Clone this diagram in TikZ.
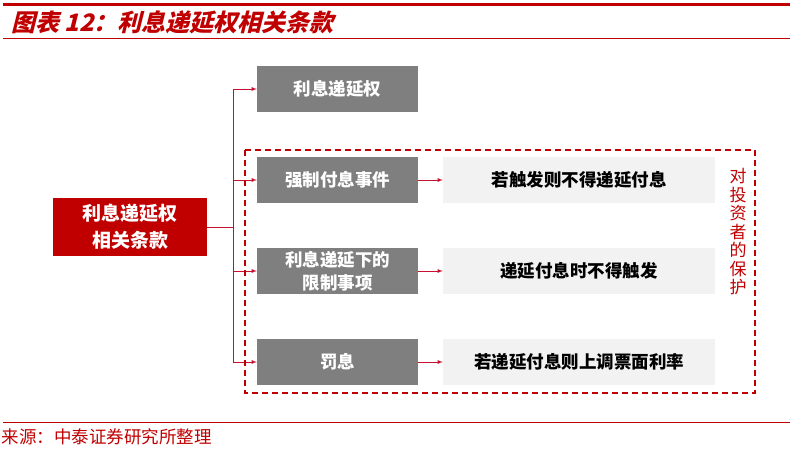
\documentclass[tikz,border=0pt]{standalone}
\usepackage{fontspec}
\newfontfamily\cjk{Noto Sans CJK SC}
\usetikzlibrary{positioning}
\definecolor{zred}{HTML}{C00000}
\definecolor{lred}{HTML}{C8102E}
\definecolor{zgray}{HTML}{7F7F7F}
\definecolor{lgray}{HTML}{F2F2F2}
\begin{document}
\begin{tikzpicture}[x=1pt,y=-1pt,
	font=\cjk\bfseries\fontsize{17.5}{23}\selectfont,
	main/.style={fill=zred,text=white,minimum width=154pt,minimum height=58pt,align=center,font=\cjk\bfseries\fontsize{19}{27}\selectfont},
	item/.style={fill=zgray,text=white,minimum width=161pt,minimum height=46pt,inner sep=1pt,align=center},
	effect/.style={fill=lgray,text=black,minimum width=272pt,minimum height=46pt},
	link/.style={draw=lred,thick,-latex}]
  \useasboundingbox (0,0) rectangle (790,448);

  % header and footer
  \fill[zred] (3,3) rectangle (790,6);
  \draw[zred] (3,38) -- (790,38);
  \node[anchor=west,text=zred,font=\cjk\bfseries\fontsize{24}{28}\selectfont,xslant=0.25] (title) at (10,22) {图表 12：利息递延权相关条款};
  \draw[zred] (3,422) -- (790,422);
  \node[anchor=west,text=zred,font=\cjk\fontsize{17.5}{20}\selectfont] (src) at (-2,437) {来源：中泰证券研究所整理};

  % nodes
  \node[main] (m) at (130,227) {利息递延权\\相关条款};
  \node[item] (i1) at (337.5,89) {利息递延权};
  \node[item] (i2) at (337.5,180) {强制付息事件};
  \node[item] (i3) at (337.5,271) {利息递延下的\\限制事项};
  \node[item] (i4) at (337.5,362) {罚息};
  \node[effect] (e2) at (579,180) {若触发则不得递延付息};
  \node[effect] (e3) at (579,271) {递延付息时不得触发};
  \node[effect] (e4) at (579,362) {若递延付息则上调票面利率};

  % connectors
  \coordinate (t) at (233,227);
  \draw[lred,thick] (m.east) -- (t);
  \draw[lred,thick] (233,89) -- (233,362);
  \foreach \i in {1,...,4}{
	  \draw[link] (t |- i\i) -- (i\i.west);
  }
  \foreach \i in {2,...,4}{
	  \draw[link] (i\i.east) -- (e\i.west);
  }

  % protection frame
  \draw[zred,line width=1.5pt,dash pattern=on 6pt off 4pt] (245,150) rectangle (755,393);
  \node[text=zred,font=\cjk\fontsize{17}{18.5}\selectfont,align=center,inner sep=0pt] (prot) at (738,232) {对\\投\\资\\者\\的\\保\\护};
\end{tikzpicture}
\end{document}
